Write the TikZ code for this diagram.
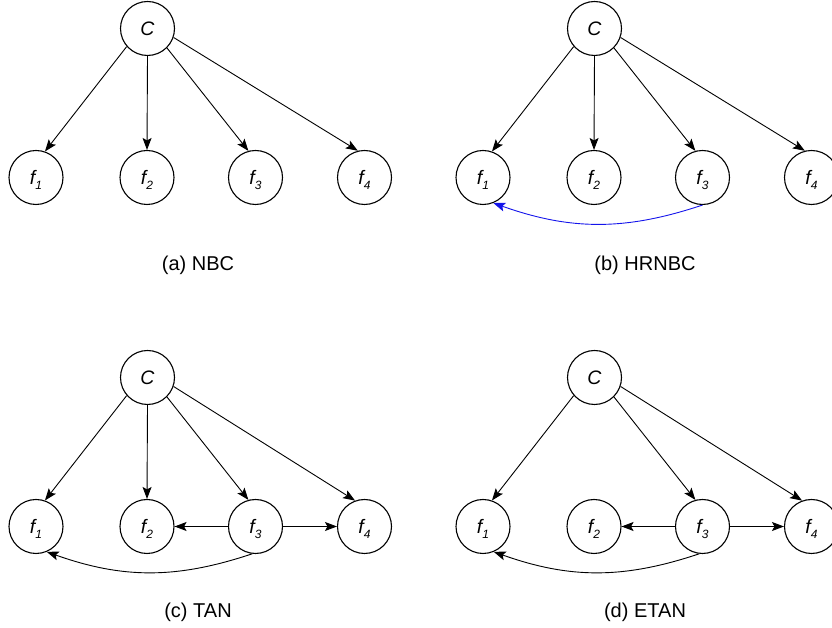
\documentclass[tikz,border=0pt]{standalone}
\usepackage{fontspec}
\setmainfont{Liberation Sans}
\usetikzlibrary{arrows.meta}
\definecolor{edgeblue}{RGB}{20,20,235}
\newcommand{\fsub}[1]{\textit{f}\raisebox{-5pt}[0pt][0pt]{\fontsize{12}{12}\selectfont\textit{#1}}}
\tikzset{
	x=1pt, y=1pt,
	var/.style={circle, draw, line width=1.1pt, minimum size=54pt, inner sep=0pt,
		font=\fontsize{19.5}{21}\selectfont\itshape},
	arr/.style={-{Stealth[length=12pt, width=9pt, inset=2.5pt]}, line width=0.9pt},
	caption/.style={font=\fontsize{20}{22}\selectfont}
}
\begin{document}
\begin{tikzpicture}
	\useasboundingbox (0, 0) rectangle (832, 628);
	% (a) NBC
	\node[var] at (147.5, 599.5) (aC) {C};
	\node[var] at (36, 450.5) (a1) {\fsub{1}};
	\node[var] at (147, 450.5) (a2) {\fsub{2}};
	\node[var] at (255.5, 450.5) (a3) {\fsub{3}};
	\node[var] at (364.5, 450.5) (a4) {\fsub{4}};
	\draw[arr] (aC.-139) -- (a1.71);
	\draw[arr] (aC.south) -- (a2.north);
	\draw[arr] (aC.-45) -- (a3.105);
	\draw[arr] (aC.-19) -- (a4.104);
	\node[caption] at (198, 363) (acap) {(a) NBC};
	% (b) HRNBC
	\begin{scope}[shift={(447, 0)}]
		\node[var] at (147.5, 599.5) (bC) {C};
		\node[var] at (36, 450.5) (b1) {\fsub{1}};
		\node[var] at (147, 450.5) (b2) {\fsub{2}};
		\node[var] at (255.5, 450.5) (b3) {\fsub{3}};
		\node[var] at (364.5, 450.5) (b4) {\fsub{4}};
		\draw[arr] (bC.-139) -- (b1.71);
		\draw[arr] (bC.south) -- (b2.north);
		\draw[arr] (bC.-45) -- (b3.105);
		\draw[arr] (bC.-19) -- (b4.104);
		\draw[arr, edgeblue] (b3.south) to[bend left=19] (b1.-68);
		\node[caption] at (198, 363) (bcap) {(b) HRNBC};
	\end{scope}
	% (c) TAN
	\begin{scope}[shift={(0, -349)}]
		\node[var] at (147.5, 599.5) (cC) {C};
		\node[var] at (36, 450.5) (c1) {\fsub{1}};
		\node[var] at (147, 450.5) (c2) {\fsub{2}};
		\node[var] at (255.5, 450.5) (c3) {\fsub{3}};
		\node[var] at (364.5, 450.5) (c4) {\fsub{4}};
		\draw[arr] (cC.-139) -- (c1.71);
		\draw[arr] (cC.south) -- (c2.north);
		\draw[arr] (cC.-45) -- (c3.105);
		\draw[arr] (cC.-19) -- (c4.110);
		\draw[arr] (c3.west) -- (c2.east);
		\draw[arr] (c3.east) -- (c4.west);
		\draw[arr] (c3.-97) to[bend left=19] (c1.-67);
		\node[caption] at (198, 365) (ccap) {(c) TAN};
	\end{scope}
	% (d) ETAN
	\begin{scope}[shift={(447, -349)}]
		\node[var] at (147.5, 599.5) (dC) {C};
		\node[var] at (36, 450.5) (d1) {\fsub{1}};
		\node[var] at (147, 450.5) (d2) {\fsub{2}};
		\node[var] at (255.5, 450.5) (d3) {\fsub{3}};
		\node[var] at (364.5, 450.5) (d4) {\fsub{4}};
		\draw[arr] (dC.-139) -- (d1.71);
		\draw[arr] (dC.-45) -- (d3.105);
		\draw[arr] (dC.-19) -- (d4.110);
		\draw[arr] (d3.west) -- (d2.east);
		\draw[arr] (d3.east) -- (d4.west);
		\draw[arr] (d3.-97) to[bend left=19] (d1.-67);
		\node[caption] at (198, 365) (dcap) {(d) ETAN};
	\end{scope}
\end{tikzpicture}
\end{document}
